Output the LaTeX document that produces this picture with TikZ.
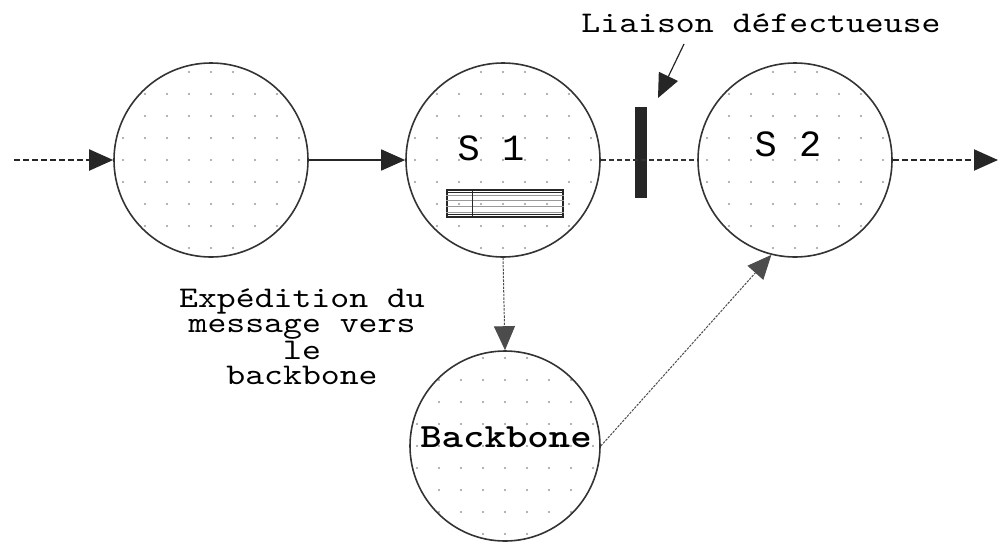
\documentclass[tikz,border=0pt]{standalone}
\usepackage{fontspec}
\newfontfamily\plainmono{Liberation Mono}
\newfontfamily\widemono[FakeStretch=1.2,
  BoldFont=lmmonolt10-bold.otf]{lmmono10-regular.otf}
\usetikzlibrary{arrows.meta,calc}
\begin{document}
\begin{tikzpicture}[x=0.5pt,y=-0.5pt,
  dotfill/.style={path picture={
    \foreach \i in {-5,...,5}{\foreach \j in {-5,...,5}{
      \fill[black!40] ([shift={(\i*22,\j*22)}]path picture bounding box.center) circle[radius=0.55pt];}}}},
  station/.style={circle, draw=black!80, line width=0.8pt, minimum size=97pt, inner sep=0pt, dotfill},
  tip/.style={-{Triangle[length=12pt,width=10.5pt]}},
  heavydash/.style={line width=1pt, black!85, dash pattern=on 3pt off 1.5pt},
  thindash/.style={line width=0.6pt, black!80, dash pattern=on 2.5pt off 1.5pt},
  fine/.style={line width=0.5pt, black!70, dash pattern=on 1.2pt off 0.6pt},
  link/.style={line width=0.8pt, black!85},
  lbl/.style={font=\widemono\fontsize{15}{12.5}\selectfont, inner sep=0pt},
  big/.style={font=\plainmono\fontsize{18.5}{20}\selectfont, inner sep=0pt}
]
\useasboundingbox (0,0) rectangle (999,541);

% stations
\node[station] (A) at (211,160) {};
\node[station] (S1) at (503,160) {};
\node[station] (S2) at (795,160) {};
\node[station, minimum size=95pt] (BB) at (505,446) {};

% labels inside the stations
\node[big] (s1lab) at (491,148) {S 1};
\node[big] (s2lab) at (788,144) {S 2};
\node[font=\widemono\bfseries\fontsize{17}{20}\selectfont, inner sep=0pt] (bblab) at (506,437) {Backbone};

% message buffer in S1
\node[draw=black!85, line width=0.8pt, minimum width=58pt, minimum height=13.5pt, inner sep=0pt] (buf) at (505,203.5) {};
\foreach \f in {0.2,0.4,0.6,0.8}
  \draw[black!40, line width=0.35pt] ($(buf.south west)!\f!(buf.north west)$) -- ($(buf.south east)!\f!(buf.north east)$);
\draw[black!85, line width=0.5pt] ($(buf.north west)!0.1!(buf.south west)$) -- ($(buf.north east)!0.1!(buf.south east)$);
\draw[black!85, line width=0.5pt] ($(buf.north west)!0.9!(buf.south west)$) -- ($(buf.north east)!0.9!(buf.south east)$);
\draw[black!85, line width=0.6pt] ([xshift=13pt]buf.north west) -- ([xshift=13pt]buf.south west);

% broken link marker
\node[fill=black!85, minimum width=6pt, minimum height=45.5pt, inner sep=0pt] (bar) at (641,152.5) {};

% texts
\node[lbl] (liaison) at (761,23) {Liaison défectueuse};
\node[lbl, align=center, anchor=north] (note) at (302,288) {Expédition du\\message vers\\le\\backbone};

% free ends
\coordinate (inL) at (14,160);
\coordinate (outR) at (998,160);
\coordinate (warnTail) at (684,44);
\coordinate (warnTip) at (658,98);

% connectors
\draw[heavydash, tip] (inL) -- (A.west);
\draw[link, tip] (A.east) -- (S1.west);
\draw[thindash] (S1.east) -- (S2.west);
\draw[heavydash, tip] (S2.east) -- (outR);
\draw[fine, tip] (S1.south) -- (BB.north);
\draw[fine, tip] (BB.east) -- (S2.-104);
\draw[link, line width=0.6pt, tip] (warnTail) -- (warnTip);
\end{tikzpicture}
\end{document}
